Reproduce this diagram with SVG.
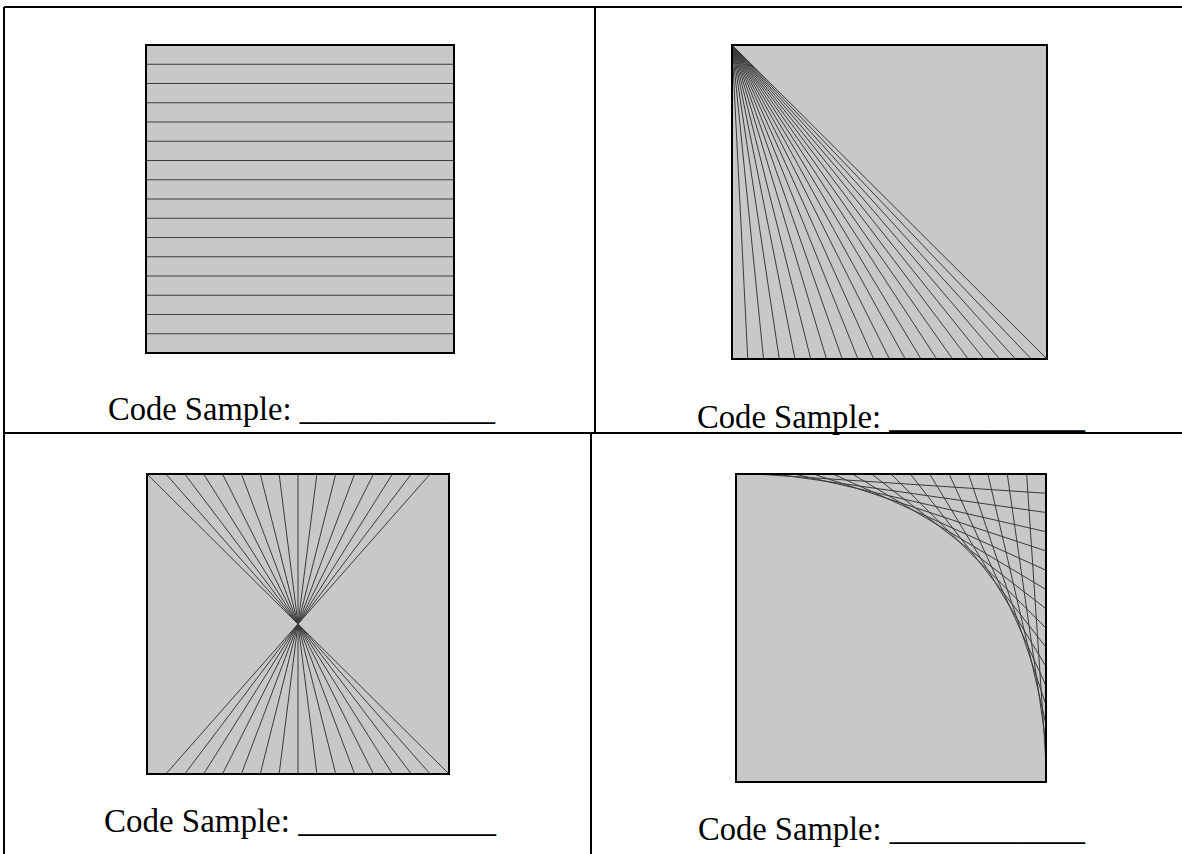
<svg xmlns="http://www.w3.org/2000/svg" width="1182" height="854" viewBox="0 0 1182 854">
<style>
.bg{fill:#c8c8c8;stroke:none}
.frame{fill:none;stroke:#000;stroke-width:2}
.art{fill:none;stroke:#3a3a3a;stroke-width:1}
.grid{stroke:#000;stroke-width:2;fill:none}
.lbl{font-family:"Liberation Serif","DejaVu Serif",serif;font-size:33px;fill:#000}
</style>
<rect width="1182" height="854" fill="#fff"/>
<g id="table-lines">
<path class="grid" d="M4 7H1182M4 7V854M4 433H1182M595 7V433M591 433V854"/>
</g>
<g id="cell-top-left">
<rect class="bg" x="146" y="45" width="308" height="308"/>
<path class="art" d="M146 64.25H454M146 83.5H454M146 102.75H454M146 122H454M146 141.25H454M146 160.5H454M146 179.75H454M146 199H454M146 218.25H454M146 237.5H454M146 256.75H454M146 276H454M146 295.25H454M146 314.5H454M146 333.75H454"/>
<rect class="frame" x="146" y="45" width="308" height="308"/>
<text class="lbl" x="108" y="420" textLength="387" lengthAdjust="spacingAndGlyphs">Code Sample: ____________</text>
</g>
<g id="cell-top-right">
<rect class="bg" x="732" y="45" width="315" height="314"/>
<path class="art" d="M732 45L747.75 359M732 45L763.5 359M732 45L779.25 359M732 45L795 359M732 45L810.75 359M732 45L826.5 359M732 45L842.25 359M732 45L858 359M732 45L873.75 359M732 45L889.5 359M732 45L905.25 359M732 45L921 359M732 45L936.75 359M732 45L952.5 359M732 45L968.25 359M732 45L984 359M732 45L999.75 359M732 45L1015.5 359M732 45L1031.25 359M732 45L1047 359"/>
<rect class="frame" x="732" y="45" width="315" height="314"/>
<text class="lbl" x="697" y="428" textLength="388" lengthAdjust="spacingAndGlyphs">Code Sample: ____________</text>
</g>
<g id="cell-bottom-left">
<rect class="bg" x="147" y="474" width="302" height="300"/>
<path class="art" d="M147 474L449 774M165.875 474L430.125 774M184.75 474L411.25 774M203.625 474L392.375 774M222.5 474L373.5 774M241.375 474L354.625 774M260.25 474L335.75 774M279.125 474L316.875 774M298 474L298 774M316.875 474L279.125 774M335.75 474L260.25 774M354.625 474L241.375 774M373.5 474L222.5 774M392.375 474L203.625 774M411.25 474L184.75 774M430.125 474L165.875 774"/>
<rect class="frame" x="147" y="474" width="302" height="300"/>
<text class="lbl" x="104" y="832" textLength="392" lengthAdjust="spacingAndGlyphs">Code Sample: ____________</text>
</g>
<g id="cell-bottom-right">
<rect class="bg" x="736" y="474" width="310" height="308"/>
<path class="art" d="M755.375 474L1046 493.25M774.75 474L1046 512.5M794.125 474L1046 531.75M813.5 474L1046 551M832.875 474L1046 570.25M852.25 474L1046 589.5M871.625 474L1046 608.75M891 474L1046 628M910.375 474L1046 647.25M929.75 474L1046 666.5M949.125 474L1046 685.75M968.5 474L1046 705M987.875 474L1046 724.25M1007.25 474L1046 743.5M1026.625 474L1046 762.75"/>
<rect class="frame" x="736" y="474" width="310" height="308"/>
<text class="lbl" x="698" y="840" textLength="387" lengthAdjust="spacingAndGlyphs">Code Sample: ____________</text>
</g>
</svg>
